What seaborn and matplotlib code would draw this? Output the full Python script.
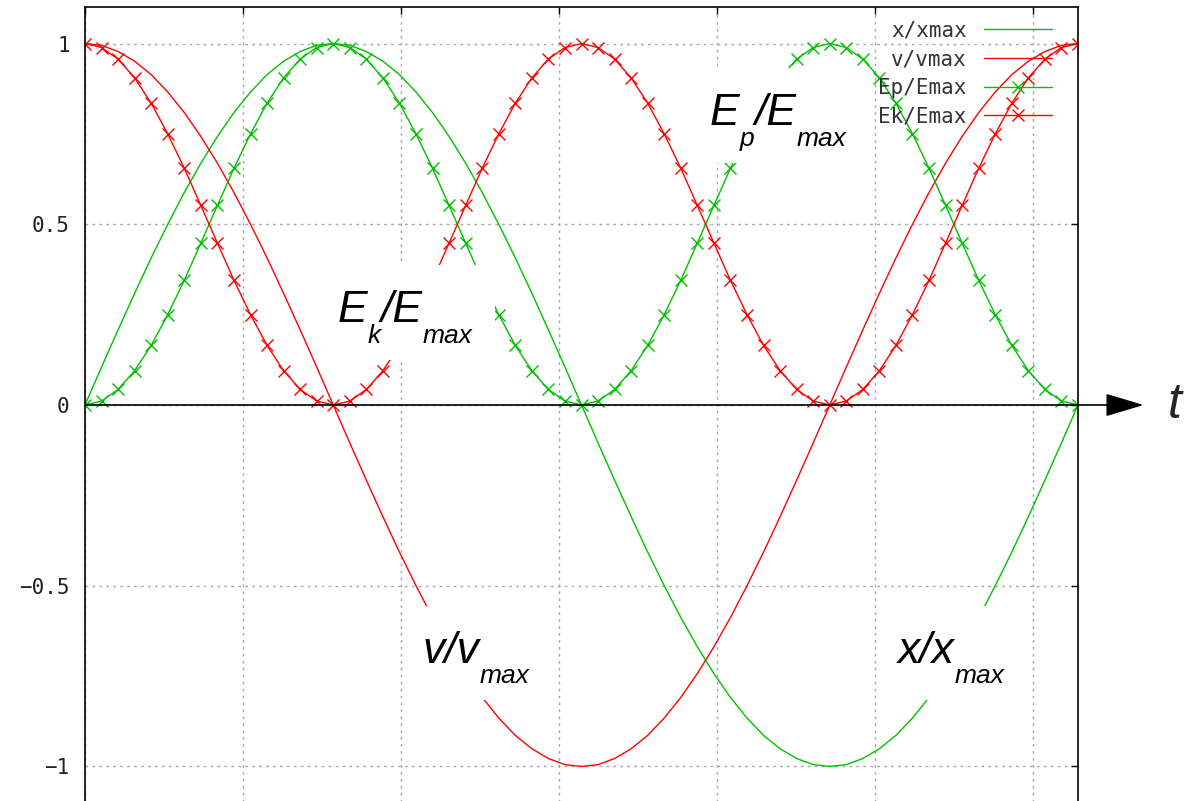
import numpy as np
import matplotlib
matplotlib.use("Agg")
import matplotlib.pyplot as plt
from matplotlib.patches import Rectangle
from matplotlib.transforms import Bbox
import seaborn as sns

# ---- data: one oscillation period, 61 samples -------------------------
t = np.linspace(0.0, 2 * np.pi, 61)

x_rel = [0.000, 0.105, 0.208, 0.309, 0.407, 0.500, 0.588, 0.669, 0.743,
         0.809, 0.866, 0.914, 0.951, 0.978, 0.995, 1.000,
         0.995, 0.978, 0.951, 0.914, 0.866, 0.809, 0.743, 0.669, 0.588,
         0.500, 0.407, 0.309, 0.208, 0.105, 0.000,
         -0.105, -0.208, -0.309, -0.407, -0.500, -0.588, -0.669, -0.743,
         -0.809, -0.866, -0.914, -0.951, -0.978, -0.995, -1.000,
         -0.995, -0.978, -0.951, -0.914, -0.866, -0.809, -0.743, -0.669,
         -0.588, -0.500, -0.407, -0.309, -0.208, -0.105, 0.000]

v_rel = [1.000, 0.995, 0.978, 0.951, 0.914, 0.866, 0.809, 0.743, 0.669,
         0.588, 0.500, 0.407, 0.309, 0.208, 0.105, 0.000,
         -0.105, -0.208, -0.309, -0.407, -0.500, -0.588, -0.669, -0.743,
         -0.809, -0.866, -0.914, -0.951, -0.978, -0.995, -1.000,
         -0.995, -0.978, -0.951, -0.914, -0.866, -0.809, -0.743, -0.669,
         -0.588, -0.500, -0.407, -0.309, -0.208, -0.105, 0.000,
         0.105, 0.208, 0.309, 0.407, 0.500, 0.588, 0.669, 0.743, 0.809,
         0.866, 0.914, 0.951, 0.978, 0.995, 1.000]

ep_rel = [0.000, 0.011, 0.043, 0.095, 0.165, 0.250, 0.345, 0.448, 0.552,
          0.655, 0.750, 0.835, 0.905, 0.957, 0.989, 1.000,
          0.989, 0.957, 0.905, 0.835, 0.750, 0.655, 0.552, 0.448, 0.345,
          0.250, 0.165, 0.095, 0.043, 0.011, 0.000,
          0.011, 0.043, 0.095, 0.165, 0.250, 0.345, 0.448, 0.552, 0.655,
          0.750, 0.835, 0.905, 0.957, 0.989, 1.000,
          0.989, 0.957, 0.905, 0.835, 0.750, 0.655, 0.552, 0.448, 0.345,
          0.250, 0.165, 0.095, 0.043, 0.011, 0.000]

ek_rel = [1.000, 0.989, 0.957, 0.905, 0.835, 0.750, 0.655, 0.552, 0.448,
          0.345, 0.250, 0.165, 0.095, 0.043, 0.011, 0.000,
          0.011, 0.043, 0.095, 0.165, 0.250, 0.345, 0.448, 0.552, 0.655,
          0.750, 0.835, 0.905, 0.957, 0.989, 1.000,
          0.989, 0.957, 0.905, 0.835, 0.750, 0.655, 0.552, 0.448, 0.345,
          0.250, 0.165, 0.095, 0.043, 0.011, 0.000,
          0.011, 0.043, 0.095, 0.165, 0.250, 0.345, 0.448, 0.552, 0.655,
          0.750, 0.835, 0.905, 0.957, 0.989, 1.000]

series_labels = ["x/xmax", "v/vmax", "Ep/Emax", "Ek/Emax"]
x_ticks = [0, 1, 2, 3, 4, 5, 6]
y_ticks = [-1, -0.5, 0, 0.5, 1]
y_tick_labels = ["\u22121", "\u22120.5", "0", "0.5", "1"]

GREEN = "#00c000"
RED = "#ff0000"
MONO = "DejaVu Sans Mono"
SANS = "Liberation Sans"

sns.set_style("white")
plt.rcParams["font.family"] = [MONO, "DejaVu Sans"]

fig = plt.figure(figsize=(11.84, 8.01), dpi=100)
ax = fig.add_axes([85 / 1184, -1.6 / 801, 993 / 1184, 795.2 / 801])

line_kw = dict(lw=1.0, ax=ax)
mark_kw = dict(marker="x", markersize=9, markeredgewidth=1.0)
sns.lineplot(x=t, y=x_rel, color=GREEN, label=series_labels[0], **line_kw)
sns.lineplot(x=t, y=v_rel, color=RED, label=series_labels[1], **line_kw)
sns.lineplot(x=t, y=ep_rel, color=GREEN, markeredgecolor=GREEN,
             label=series_labels[2], **mark_kw, **line_kw)
sns.lineplot(x=t, y=ek_rel, color=RED, markeredgecolor=RED,
             label=series_labels[3], **mark_kw, **line_kw)

ax.set_xlim(0, 2 * np.pi)
ax.set_ylim(-1.1, 1.1)
ax.set_xlabel("")
ax.set_ylabel("")
ax.set_xticks(x_ticks)
ax.set_yticks(y_ticks)
ax.set_yticklabels(y_tick_labels)
ax.tick_params(direction="in", length=5, width=1.0, top=True, right=True,
               labelsize=15, pad=11, colors="black", labelbottom=False)
for tl in ax.get_yticklabels():
    tl.set_color("#222222")
for s in ax.spines.values():
    s.set_linewidth(1.2)
    s.set_color("black")
ax.set_axisbelow(True)
ax.grid(True, color="#a8a8a8", lw=1.0, linestyle=(0, (2, 3)))

# time axis with arrow head, running out past the frame
ax.annotate("", xy=(1.066, 0), xycoords=("axes fraction", "data"),
            xytext=(0, 0), textcoords=("axes fraction", "data"),
            arrowprops=dict(arrowstyle="-|>,head_length=1.2,head_width=0.36",
                            color="black", lw=1.2, shrinkA=0, shrinkB=0,
                            mutation_scale=20),
            annotation_clip=False, zorder=2.6)
ax.annotate("t", xy=(1.0906, 0), xycoords=("axes fraction", "data"),
            ha="left", va="center", fontsize=36, style="italic",
            family=SANS, annotation_clip=False)

# legend: labels on the left, samples on the right
handles, labels = ax.get_legend_handles_labels()
ax.legend(handles, labels, loc="upper right", bbox_to_anchor=(0.9738, 0.9835),
          frameon=False, markerfirst=False, handlelength=3.25,
          handletextpad=0.85, labelspacing=0.42, borderpad=0,
          borderaxespad=0, numpoints=1, labelcolor="#333333",
          prop={"family": MONO, "size": 15})

MAIN_SIZE = 32
SUB_SIZE = 19
SUB_DROP = 16.5
text_kw = dict(style="italic", family=SANS, color="black", zorder=3)


def curve_label(x, y, parts):
    """Chain main/subscript pieces left to right starting at data (x, y)."""
    base = ax.text(x, y, parts[0][0], fontsize=MAIN_SIZE, ha="left",
                   va="baseline", **text_kw)
    pieces = [base]
    prev = base
    for txt, is_sub in parts[1:]:
        piece = ax.annotate(txt, xy=(1, 0), xycoords=(prev, base),
                            xytext=(0, -SUB_DROP if is_sub else 0),
                            textcoords="offset pixels", ha="left",
                            va="bottom",
                            fontsize=SUB_SIZE if is_sub else MAIN_SIZE,
                            **text_kw)
        pieces.append(piece)
        prev = piece
    return pieces


label_groups = [
    curve_label(1.601, 0.2296, [("E", False), ("k", True), ("/E", False),
                                ("max", True)]),
    curve_label(3.955, 0.7746, [("E", False), ("p", True), ("/E", False),
                                ("max", True)]),
    curve_label(2.139, -0.7137, [("v/v", False), ("max", True)]),
    curve_label(5.144, -0.7137, [("x/x", False), ("max", True)]),
]

# white backing boxes so the curves break around each label
fig.canvas.draw()
inv = ax.transAxes.inverted()
for group in label_groups:
    bb = Bbox.union([p.get_window_extent() for p in group])
    (x0, y0) = inv.transform((bb.x0 - 16, bb.y0 - 12))
    (x1, y1) = inv.transform((bb.x1 + 22, bb.y1 + 25))
    ax.add_patch(Rectangle((x0, y0), x1 - x0, y1 - y0, transform=ax.transAxes,
                           facecolor="white", edgecolor="none", zorder=2.5,
                           clip_on=False))

fig.savefig("out.png", dpi=100)
